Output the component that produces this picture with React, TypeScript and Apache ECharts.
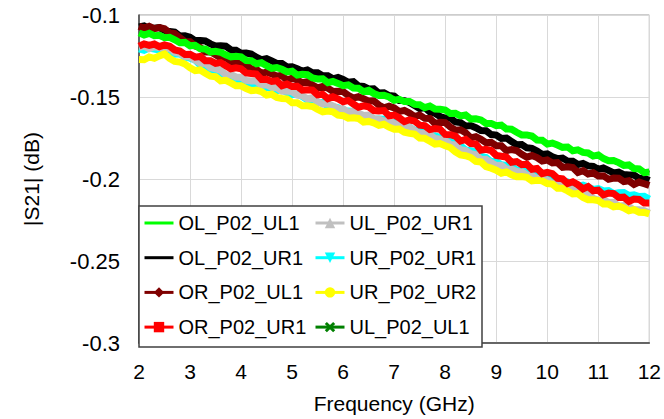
import React, { useEffect, useRef } from "react";
import * as echarts from "echarts";

const freq = [
  2, 2.1, 2.2, 2.3, 2.4, 2.5, 2.6, 2.7, 2.8, 2.9,
  3, 3.1, 3.2, 3.3, 3.4, 3.5, 3.6, 3.7, 3.8, 3.9,
  4, 4.1, 4.2, 4.3, 4.4, 4.5, 4.6, 4.7, 4.8, 4.9,
  5, 5.1, 5.2, 5.3, 5.4, 5.5, 5.6, 5.7, 5.8, 5.9,
  6, 6.1, 6.2, 6.3, 6.4, 6.5, 6.6, 6.7, 6.8, 6.9,
  7, 7.1, 7.2, 7.3, 7.4, 7.5, 7.6, 7.7, 7.8, 7.9,
  8, 8.1, 8.2, 8.3, 8.4, 8.5, 8.6, 8.7, 8.8, 8.9,
  9, 9.1, 9.2, 9.3, 9.4, 9.5, 9.6, 9.7, 9.8, 9.9,
  10, 10.1, 10.2, 10.3, 10.4, 10.5, 10.6, 10.7, 10.8, 10.9,
  11, 11.1, 11.2, 11.3, 11.4, 11.5, 11.6, 11.7, 11.8, 11.9,
  12,
];

const freqCoarse = [2, 2.5, 3, 3.5, 4, 4.5, 5, 5.5, 6, 6.5, 7, 7.5, 8, 8.5, 9, 9.5, 10, 10.5, 11, 11.5, 12];

const OL_P02_UL1 = [
  -0.1109, -0.1122, -0.1112, -0.1126, -0.1124, -0.1138, -0.1136, -0.1151, -0.1169, -0.1167,
  -0.1188, -0.1185, -0.1206, -0.1207, -0.1226, -0.1221, -0.1227, -0.1243, -0.1256, -0.1252,
  -0.1255, -0.1278, -0.1279, -0.1297, -0.1291, -0.1309, -0.1325, -0.1321, -0.1331, -0.1347,
  -0.1343, -0.1366, -0.1362, -0.1364, -0.1384, -0.139, -0.1389, -0.1413, -0.1405, -0.1417,
  -0.1431, -0.1426, -0.1445, -0.1447, -0.1467, -0.1459, -0.1479, -0.1491, -0.1489, -0.15,
  -0.152, -0.1514, -0.1528, -0.1527, -0.1545, -0.1547, -0.1565, -0.1555, -0.1573, -0.1574,
  -0.1579, -0.1601, -0.16, -0.1615, -0.161, -0.1634, -0.1633, -0.164, -0.1661, -0.1661,
  -0.1675, -0.1671, -0.1695, -0.1696, -0.1715, -0.1731, -0.1731, -0.1738, -0.1762, -0.1764,
  -0.1787, -0.1781, -0.1793, -0.1807, -0.1805, -0.1828, -0.1822, -0.1838, -0.1841, -0.186,
  -0.1853, -0.1875, -0.1889, -0.1887, -0.19, -0.1917, -0.1914, -0.1936, -0.1939, -0.1961,
  -0.1957,
];

const OL_P02_UR1 = [
  -0.1073, -0.1067, -0.1084, -0.108, -0.1077, -0.1094, -0.1101, -0.1104, -0.1128, -0.1127,
  -0.1135, -0.1156, -0.1156, -0.1158, -0.1176, -0.1189, -0.1187, -0.119, -0.1213, -0.1215,
  -0.1233, -0.1232, -0.1238, -0.1258, -0.1272, -0.1266, -0.128, -0.1295, -0.1296, -0.1317,
  -0.1316, -0.1327, -0.1342, -0.1335, -0.1352, -0.1352, -0.137, -0.137, -0.1389, -0.1381,
  -0.1393, -0.141, -0.1407, -0.1433, -0.1436, -0.1451, -0.145, -0.1476, -0.1475, -0.1491,
  -0.1494, -0.1521, -0.1522, -0.1533, -0.1552, -0.157, -0.1565, -0.1592, -0.1599, -0.1619,
  -0.1628, -0.1628, -0.1652, -0.1656, -0.1678, -0.1674, -0.1687, -0.1704, -0.1706, -0.1729,
  -0.1732, -0.1753, -0.175, -0.1772, -0.1791, -0.179, -0.181, -0.1813, -0.183, -0.185,
  -0.1847, -0.1865, -0.1876, -0.1872, -0.1891, -0.1892, -0.1912, -0.1905, -0.192, -0.1923,
  -0.1941, -0.1933, -0.1947, -0.1963, -0.1958, -0.1973, -0.1976, -0.1976, -0.1996, -0.1996,
  -0.2009,
];

const OR_P02_UL1 = [
  -0.1068, -0.1081, -0.1069, -0.1083, -0.1077, -0.1084, -0.1109, -0.1113, -0.1138, -0.1162,
  -0.1163, -0.1189, -0.1197, -0.1225, -0.1224, -0.1243, -0.1261, -0.1258, -0.1286, -0.1285,
  -0.1303, -0.1301, -0.1328, -0.1332, -0.1356, -0.1348, -0.1359, -0.1373, -0.1368, -0.1397,
  -0.1385, -0.1397, -0.1413, -0.1407, -0.1427, -0.1444, -0.1435, -0.1446, -0.1466, -0.1465,
  -0.1467, -0.149, -0.1507, -0.1498, -0.151, -0.1525, -0.1523, -0.1549, -0.1566, -0.1556,
  -0.1566, -0.1589, -0.1582, -0.1598, -0.162, -0.161, -0.163, -0.1631, -0.1662, -0.1654,
  -0.1656, -0.1683, -0.1703, -0.17, -0.1718, -0.1749, -0.1742, -0.1758, -0.1779, -0.1777,
  -0.1797, -0.1797, -0.1827, -0.182, -0.1826, -0.1849, -0.1867, -0.1857, -0.1869, -0.189,
  -0.1884, -0.1902, -0.19, -0.1929, -0.1925, -0.193, -0.196, -0.1949, -0.1969, -0.1962,
  -0.1982, -0.198, -0.2002, -0.1994, -0.1995, -0.2016, -0.2011, -0.2033, -0.2019, -0.2029,
  -0.2039,
];

const OR_P02_UR1 = [
  -0.119, -0.1176, -0.1185, -0.1177, -0.1193, -0.1182, -0.119, -0.1213, -0.122, -0.1241,
  -0.1239, -0.1257, -0.1253, -0.1279, -0.1279, -0.1295, -0.129, -0.1309, -0.1328, -0.1322,
  -0.1328, -0.1353, -0.1357, -0.136, -0.1393, -0.1392, -0.1405, -0.1401, -0.1431, -0.1421,
  -0.1436, -0.1435, -0.1458, -0.1456, -0.1458, -0.1487, -0.1484, -0.151, -0.1498, -0.1511,
  -0.1529, -0.1521, -0.1543, -0.1562, -0.1554, -0.156, -0.1583, -0.1585, -0.1583, -0.1615,
  -0.161, -0.1627, -0.165, -0.1639, -0.1647, -0.1672, -0.1675, -0.1699, -0.1693, -0.1697,
  -0.1728, -0.173, -0.1739, -0.1769, -0.1759, -0.1784, -0.1787, -0.1824, -0.1819, -0.1826,
  -0.1856, -0.1861, -0.1866, -0.1898, -0.1894, -0.1913, -0.191, -0.1941, -0.1936, -0.1967,
  -0.1959, -0.1967, -0.1996, -0.1999, -0.2028, -0.2017, -0.2035, -0.206, -0.2046, -0.2072,
  -0.2068, -0.2096, -0.2086, -0.2089, -0.2113, -0.2111, -0.2136, -0.2122, -0.2125, -0.2147,
  -0.2147,
];

const UL_P02_UR1 = [
  -0.1197, -0.119, -0.1205, -0.1194, -0.1198, -0.1205, -0.1203, -0.1227, -0.1234, -0.1255,
  -0.1255, -0.1275, -0.1294, -0.1295, -0.1321, -0.1328, -0.1338, -0.1364, -0.1363, -0.1378,
  -0.1379, -0.1399, -0.1402, -0.1403, -0.1428, -0.1426, -0.1441, -0.1443, -0.1465, -0.1463,
  -0.1468, -0.1489, -0.1493, -0.1511, -0.1505, -0.1528, -0.1543, -0.154, -0.1554, -0.157,
  -0.1571, -0.1593, -0.1586, -0.1599, -0.1612, -0.161, -0.1632, -0.1634, -0.1647, -0.1645,
  -0.1662, -0.1666, -0.1689, -0.1684, -0.1705, -0.1721, -0.1723, -0.1729, -0.1753, -0.1757,
  -0.1764, -0.1789, -0.1792, -0.1822, -0.1825, -0.1845, -0.1852, -0.1881, -0.188, -0.19,
  -0.1918, -0.1917, -0.194, -0.194, -0.1954, -0.1956, -0.1977, -0.198, -0.1999, -0.1995,
  -0.2007, -0.2029, -0.2024, -0.2047, -0.2061, -0.2064, -0.2078, -0.2097, -0.2094, -0.2117,
  -0.2129, -0.2127, -0.2143, -0.2142, -0.2166, -0.2162, -0.2168, -0.2188, -0.2187, -0.2193,
  -0.2208,
];

const UR_P02_UR1 = [
  -0.1207, -0.1215, -0.1202, -0.1208, -0.1214, -0.1204, -0.1225, -0.1239, -0.1237, -0.1257,
  -0.1263, -0.1274, -0.1305, -0.1314, -0.1343, -0.1352, -0.1364, -0.1381, -0.138, -0.1402,
  -0.1393, -0.141, -0.1421, -0.142, -0.1422, -0.1442, -0.1445, -0.1462, -0.1454, -0.1473,
  -0.1485, -0.1484, -0.1497, -0.1518, -0.1516, -0.1532, -0.1533, -0.1556, -0.1559, -0.1565,
  -0.1589, -0.1585, -0.1588, -0.1608, -0.1613, -0.1614, -0.1635, -0.1634, -0.1635, -0.1655,
  -0.1655, -0.1678, -0.1679, -0.1684, -0.1704, -0.1703, -0.1722, -0.1739, -0.1736, -0.1747,
  -0.1766, -0.1766, -0.1789, -0.1797, -0.1823, -0.1828, -0.1835, -0.1863, -0.1869, -0.1894,
  -0.1894, -0.1913, -0.1918, -0.1922, -0.1947, -0.1944, -0.1959, -0.1959, -0.1982, -0.1984,
  -0.1999, -0.1993, -0.2016, -0.2013, -0.2018, -0.2031, -0.2045, -0.2038, -0.2049, -0.2063,
  -0.2058, -0.2073, -0.2071, -0.2089, -0.2084, -0.2082, -0.2101, -0.2097, -0.2107, -0.2105,
  -0.2122,
];

const UR_P02_UR2 = [
  -0.1272, -0.1273, -0.1256, -0.1264, -0.1249, -0.1238, -0.1264, -0.1283, -0.1287, -0.1299,
  -0.1322, -0.1339, -0.1335, -0.1355, -0.1373, -0.1376, -0.1401, -0.1398, -0.1414, -0.1432,
  -0.1432, -0.1449, -0.1461, -0.1458, -0.1467, -0.1488, -0.1483, -0.1503, -0.1509, -0.1511,
  -0.1535, -0.1535, -0.1554, -0.1554, -0.1558, -0.1575, -0.159, -0.1585, -0.159, -0.1611,
  -0.1614, -0.1629, -0.1627, -0.1631, -0.1653, -0.1649, -0.1658, -0.1673, -0.1666, -0.1684,
  -0.1697, -0.1695, -0.1715, -0.1722, -0.1726, -0.1751, -0.1752, -0.1769, -0.1787, -0.1784,
  -0.1797, -0.1808, -0.1834, -0.1853, -0.1858, -0.1869, -0.1893, -0.1896, -0.1925, -0.1934,
  -0.1946, -0.1965, -0.1957, -0.1974, -0.1986, -0.1985, -0.199, -0.2012, -0.2008, -0.2011,
  -0.2028, -0.2031, -0.2057, -0.2057, -0.2073, -0.2091, -0.2089, -0.2112, -0.2126, -0.2127,
  -0.2132, -0.2152, -0.2153, -0.217, -0.2165, -0.2177, -0.2194, -0.2187, -0.2203, -0.2204,
  -0.2213,
];

const UL_P02_UL1 = [
  -0.1115, -0.113, -0.1187, -0.1224, -0.1262, -0.1309, -0.1349, -0.1389, -0.1427, -0.1467,
  -0.1513, -0.1548, -0.1586, -0.1629, -0.1671, -0.1726, -0.1779, -0.1821, -0.1863, -0.1912,
  -0.1961,
];

const xTicks = [2, 3, 4, 5, 6, 7, 8, 9, 10, 11, 12];
const yTicks = [-0.3, -0.25, -0.2, -0.15, -0.1];

const FONT = "'Liberation Sans', Arial, sans-serif";

const pairs = (xs: number[], ys: number[]) => xs.map((x, i) => [x, ys[i]]);

const XSYM = "path://M0,2L2,0L5,3L8,0L10,2L7,5L10,8L8,10L5,7L2,10L0,8L3,5Z";
const DOWNTRI = "path://M0,0L10,0L5,9Z";
const LINEICON = "path://M0,0L29,0L29,3L0,3Z";

function mk(name: string, xs: number[], ys: number[], color: string, symbol: string, width = 7) {
  return {
    name,
    type: "line",
    data: pairs(xs, ys),
    symbol,
    symbolSize: 10,
    showSymbol: false,
    itemStyle: { color },
    lineStyle: { color, width, join: "miter", cap: "butt" },
    silent: true,
    emphasis: { disabled: true },
  };
}

export default function App() {
  const ref = useRef<HTMLDivElement>(null);
  useEffect(() => {
    document.body.style.margin = "0";
    const chart = echarts.init(ref.current!, null, { renderer: "svg" });
    const legendCommon = {
      orient: "vertical",
      top: 213,
      itemGap: 14.7,
      itemWidth: 29,
      itemHeight: 13,
      padding: 0,
      z: 20,
      selectedMode: false,
      lineStyle: { width: 3 },
      textStyle: { fontSize: 20, color: "#000", fontFamily: FONT },
    };
    chart.setOption({
      animation: false,
      textStyle: { fontFamily: FONT },
      grid: {
        left: 139,
        right: 4,
        top: 15,
        bottom: 72,
        show: true,
        borderColor: "#9a9a9a",
        borderWidth: 1,
      },
      xAxis: {
        type: "value",
        min: xTicks[0],
        max: xTicks[xTicks.length - 1],
        interval: 1,
        name: "Frequency (GHz)",
        nameLocation: "middle",
        nameGap: 50,
        nameTextStyle: { fontSize: 21, color: "#000", fontFamily: FONT },
        axisLine: { show: true, onZero: false, lineStyle: { color: "#404040", width: 1.5 } },
        axisTick: { show: false },
        axisLabel: { fontSize: 21, color: "#000", margin: 18, fontFamily: FONT },
        splitLine: { show: true, lineStyle: { color: "#d9d9d9", width: 1 } },
      },
      yAxis: {
        type: "value",
        min: yTicks[0],
        max: yTicks[yTicks.length - 1],
        interval: 0.05,
        name: "|S21| (dB)",
        nameLocation: "middle",
        nameGap: 97,
        nameTextStyle: { fontSize: 21, color: "#000", fontFamily: FONT },
        axisLine: { show: true, onZero: false, lineStyle: { color: "#404040", width: 1.5 } },
        axisTick: { show: false },
        axisLabel: {
          fontSize: 22,
          color: "#000",
          margin: 19,
          fontFamily: FONT,
          formatter: (v: number) => String(Number(v.toFixed(2))),
        },
        splitLine: { show: true, lineStyle: { color: "#d9d9d9", width: 1 } },
      },
      graphic: [
        {
          type: "rect",
          z: 10,
          shape: { x: 139, y: 206, width: 343, height: 141 },
          style: { fill: "#ffffff", stroke: "#404040", lineWidth: 1.5 },
          silent: true,
        },
      ],
      legend: [
        {
          ...legendCommon,
          left: 143,
          data: [
            { name: "OL_P02_UL1", icon: LINEICON },
            { name: "OL_P02_UR1", icon: LINEICON },
            "OR_P02_UL1",
            "OR_P02_UR1",
          ],
        },
        { ...legendCommon, left: 314, data: ["UL_P02_UR1", "UR_P02_UR1", "UR_P02_UR2", "UL_P02_UL1"] },
      ],
      series: [
        mk("UL_P02_UL1", freqCoarse, UL_P02_UL1, "#008000", XSYM, 4),
        mk("UR_P02_UR1", freq, UR_P02_UR1, "#00ffff", DOWNTRI),
        mk("UL_P02_UR1", freq, UL_P02_UR1, "#c0c0c0", "triangle"),
        mk("UR_P02_UR2", freq, UR_P02_UR2, "#ffff00", "circle"),
        mk("OL_P02_UR1", freq, OL_P02_UR1, "#000000", "none"),
        mk("OR_P02_UL1", freq, OR_P02_UL1, "#7f0000", "diamond"),
        mk("OL_P02_UL1", freq, OL_P02_UL1, "#00ff00", "none"),
        mk("OR_P02_UR1", freq, OR_P02_UR1, "#ff0000", "rect"),
      ],
    });
    return () => chart.dispose();
  }, []);
  return <div ref={ref} style={{ width: 664, height: 419 }} />;
}
